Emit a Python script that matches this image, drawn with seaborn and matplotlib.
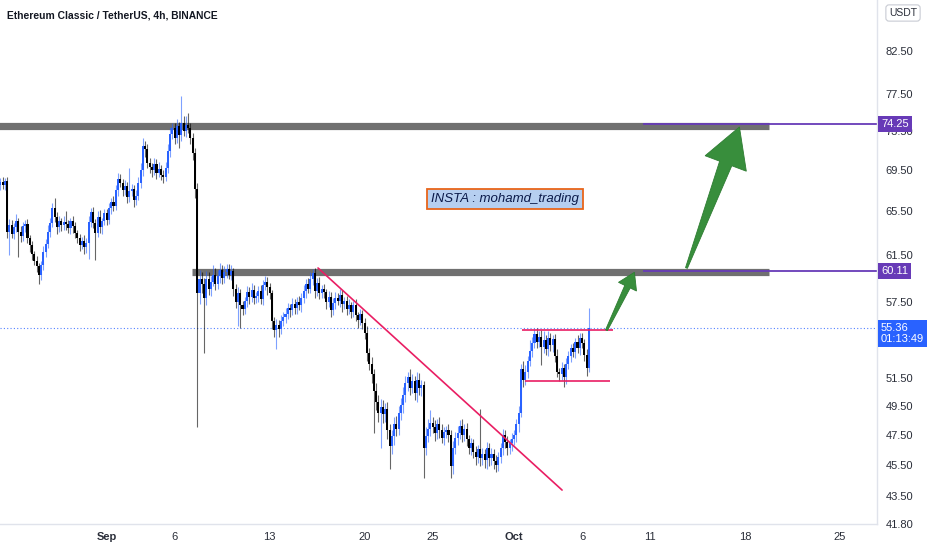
import numpy as np
import pandas as pd
import matplotlib
matplotlib.use("Agg")
import matplotlib.pyplot as plt
import seaborn as sns
from matplotlib.patches import Polygon
from matplotlib.transforms import IdentityTransform, blended_transform_factory
from matplotlib.ticker import FixedLocator, NullLocator, FormatStrFormatter

sns.set_theme(style="white")
plt.rcParams['font.family'] = ['Liberation Sans', 'DejaVu Sans']

# ETC/USDT 4h candles, Aug 24 04:00 -> Oct 6 12:00
first_open = 68.0
closes = [
    68.3, 68.0, 68.4, 63.6, 64.2,
    63.4, 64.0, 64.6, 63.6, 63.2, 64.1,
    64.3, 63.0, 62.4, 61.6, 61.0, 60.5,
    59.8, 60.6, 61.8, 62.5, 63.6, 64.4,
    65.8, 65.0, 64.0, 64.6, 64.2, 64.5,
    64.3, 63.9, 64.6, 64.1, 63.5, 63.0,
    62.4, 62.8, 62.2, 62.6, 64.5, 65.4,
    64.4, 63.5, 65.0, 64.0, 64.6, 65.3,
    64.7, 65.8, 66.4, 66.0, 67.5, 68.6,
    68.2, 67.5, 67.9, 66.9, 67.4, 67.6,
    66.6, 67.0, 68.2, 69.5, 72.0, 71.6,
    70.2, 69.8, 69.5, 70.1, 69.2, 69.6,
    69.0, 68.8, 69.7, 71.4, 73.2, 73.8,
    72.8, 74.0, 73.1, 74.4, 73.5, 74.2,
    73.8, 72.8, 71.2, 67.6, 58.2, 59.4,
    59.0, 57.8, 59.4, 58.6, 59.2, 59.8,
    59.0, 59.7, 60.2, 59.5, 60.0, 60.3,
    59.8, 60.1, 58.6, 57.5, 58.2, 57.2,
    56.9, 57.6, 58.3, 57.9, 58.5, 57.8,
    58.0, 58.4, 57.7, 58.9, 59.2, 58.7,
    58.2, 55.9, 55.2, 55.6, 55.3, 55.9,
    56.3, 56.5, 57.0, 56.8, 57.3, 57.0,
    57.5, 57.2, 57.8, 58.4, 59.0, 58.6,
    59.4, 59.9, 58.4, 59.1, 58.2, 58.6,
    58.3, 57.5, 57.9, 56.8, 57.4, 57.8,
    57.6, 58.1, 57.3, 57.6, 56.9, 57.2,
    56.7, 57.2, 56.4, 56.0, 56.5, 55.8,
    55.0, 53.4, 52.6, 51.8, 50.6, 49.8,
    49.0, 49.4, 48.9, 49.3, 47.8, 46.7,
    47.4, 48.2, 47.9, 49.0, 49.6, 50.3,
    51.2, 51.6, 50.8, 51.3, 50.4, 51.4,
    50.8, 51.0, 46.6, 47.4, 47.9, 48.3,
    48.0, 47.6, 48.2, 47.8, 47.3, 47.7,
    47.8, 47.5, 45.4, 46.6, 47.3, 47.6,
    48.1, 47.5, 47.9, 47.2, 46.6, 46.9,
    46.3, 46.0, 46.5, 45.9, 46.2, 45.8,
    46.6, 45.9, 46.2, 45.7, 45.5, 46.0,
    46.6, 47.5, 47.0, 46.6, 46.9, 47.2,
    47.5, 48.2, 49.0, 52.2, 51.4, 52.0,
    52.8, 53.6, 54.2, 54.9, 54.3, 54.7,
    53.9, 54.4, 53.7, 54.6, 54.0, 54.5,
    53.2, 52.0, 51.8, 52.3, 51.6, 52.6,
    53.2, 53.8, 53.5, 54.3, 53.8, 54.6,
    54.2, 53.3, 52.3, 55.36,
]
upper_wick = [
    0.4, 0.5, 0.3, 0.4, 0.6,
    0.5, 0.4, 0.6, 0.3, 0.5, 0.4,
    0.4, 0.5, 0.3, 0.4, 0.3, 0.4,
    0.3, 0.4, 0.5, 0.4, 0.6, 0.5,
    0.5, 1.0, 0.4, 0.5, 0.3, 0.6,
    1.0, 0.4, 0.3, 0.5, 0.4, 0.3,
    0.4, 0.3, 0.5, 0.4, 0.6, 0.4,
    0.5, 0.4, 0.5, 0.6, 0.3, 0.4,
    0.4, 0.5, 0.4, 0.6, 0.5, 0.6,
    0.5, 0.4, 0.6, 0.4, 2.3, 0.5,
    0.4, 0.5, 0.6, 0.7, 0.8, 0.5,
    0.6, 0.5, 0.4, 0.6, 0.5, 0.7,
    0.4, 0.5, 0.6, 0.8, 0.7, 0.6,
    0.6, 0.8, 0.5, 2.9, 0.7, 0.9,
    1.2, 0.6, 0.5, 0.5, 0.6, 0.8,
    0.6, 0.5, 0.7, 0.6, 0.5, 0.8,
    0.6, 0.5, 0.6, 0.4, 0.5, 0.4,
    0.4, 0.5, 0.3, 0.4, 0.5, 0.4,
    0.4, 0.3, 0.5, 0.4, 0.6, 0.4,
    0.3, 0.4, 0.5, 0.4, 0.5, 0.4,
    0.4, 0.3, 0.4, 0.5, 0.4, 0.5,
    0.4, 0.5, 0.4, 0.3, 0.5, 0.4,
    0.4, 0.5, 0.4, 0.5, 0.4, 0.5,
    0.6, 0.4, 0.5, 0.4, 0.5, 0.3,
    0.4, 0.3, 0.5, 0.4, 0.4, 0.5,
    0.4, 0.5, 0.4, 0.3, 0.4, 0.5,
    0.3, 0.4, 0.5, 0.3, 0.4, 0.3,
    0.4, 0.5, 0.4, 0.5, 0.4, 0.6,
    0.5, 0.6, 0.5, 0.4, 0.5, 0.4,
    0.4, 0.5, 0.6, 0.5, 0.5, 0.6,
    0.5, 0.4, 0.6, 0.5, 0.4, 0.6,
    0.5, 0.4, 0.3, 0.6, 0.7, 0.9,
    0.4, 0.5, 0.4, 0.5, 0.4, 0.3,
    0.3, 0.4, 0.3, 0.5, 0.4, 0.5,
    0.4, 0.5, 0.3, 0.4, 0.3, 0.4,
    0.3, 0.4, 0.3, 2.8, 0.4, 0.3,
    0.4, 0.3, 0.4, 0.3, 0.4, 0.3,
    0.3, 0.4, 0.3, 0.4, 0.3, 0.4,
    0.3, 0.4, 0.5, 0.4, 0.6, 0.5,
    0.4, 0.8, 0.5, 0.4, 0.5, 0.4,
    0.5, 0.7, 0.4, 0.5, 0.4, 0.3,
    0.4, 0.5, 0.3, 0.4, 0.3, 0.4,
    0.4, 0.3, 0.4, 0.3, 0.5, 0.4,
    0.4, 0.3, 0.4, 1.6,
]
lower_wick = [
    0.5, 0.4, 0.5, 0.6, 2.1,
    0.4, 0.5, 0.4, 2.3, 0.5, 0.4,
    0.5, 0.4, 0.6, 0.5, 0.4, 0.5,
    0.8, 0.5, 0.4, 0.5, 0.4, 0.5,
    0.4, 0.5, 0.6, 0.4, 0.5, 0.4,
    0.5, 0.4, 0.5, 0.6, 0.5, 0.4,
    0.5, 0.4, 0.6, 0.5, 1.4, 0.5,
    0.5, 2.4, 0.4, 0.5, 0.6, 0.4,
    0.5, 0.4, 0.6, 0.5, 0.4, 0.5,
    0.4, 0.5, 0.4, 0.6, 0.5, 0.4,
    0.7, 0.5, 0.4, 0.5, 0.6, 0.8,
    0.5, 0.6, 0.7, 0.5, 0.6, 0.4,
    0.5, 0.6, 0.4, 0.5, 0.6, 0.5,
    0.6, 0.5, 1.4, 0.6, 0.5, 0.6,
    0.5, 0.6, 0.7, 0.8, 10.2, 0.9,
    0.8, 4.4, 0.6, 0.5, 0.6, 0.4,
    0.5, 0.4, 0.6, 0.5, 0.4, 0.5,
    0.4, 0.5, 0.6, 0.5, 2.0, 1.8,
    0.5, 0.4, 0.5, 0.6, 0.4, 0.5,
    0.4, 0.5, 0.4, 0.5, 0.4, 0.6,
    0.5, 0.6, 0.5, 1.5, 0.6, 0.4,
    0.4, 0.5, 0.4, 0.5, 0.4, 0.5,
    0.5, 0.4, 0.5, 0.4, 0.6, 0.4,
    0.4, 0.5, 0.6, 0.4, 0.5, 0.4,
    0.5, 0.6, 0.4, 0.5, 0.4, 0.5,
    0.4, 0.5, 0.6, 0.4, 0.5, 0.4,
    0.5, 0.4, 0.5, 0.6, 0.4, 0.5,
    0.5, 0.6, 0.5, 0.6, 3.0, 0.6,
    0.6, 2.4, 0.6, 0.5, 0.6, 1.5,
    0.5, 0.6, 0.5, 0.4, 0.5, 0.6,
    0.5, 0.6, 0.5, 0.4, 0.5, 0.6,
    0.5, 0.6, 2.0, 0.5, 0.4, 0.5,
    0.4, 0.5, 0.4, 0.5, 0.4, 0.5,
    0.4, 0.5, 0.8, 0.5, 0.4, 0.5,
    0.4, 0.5, 0.4, 0.5, 0.4, 0.5,
    0.4, 0.5, 0.4, 0.5, 0.4, 0.5,
    0.6, 0.5, 0.4, 0.5, 0.5, 0.4,
    0.4, 0.5, 0.4, 0.5, 0.4, 0.5,
    0.4, 0.5, 0.5, 0.3, 0.5, 0.4,
    0.5, 0.4, 0.5, 0.4, 0.5, 0.4,
    1.4, 0.5, 0.4, 0.5, 0.4, 0.5,
    0.5, 0.4, 0.5, 0.4, 0.7, 0.5,
    0.4, 0.5, 0.4, 0.5, 0.4, 0.5,
    0.4, 0.5, 0.6, 0.3,
]

# drawing levels (prices)
resistance = [74.1, 60.0]
targets = [74.25, 60.11]
last_price = 55.36
countdown = "01:13:49"
range_top, range_bottom = 55.2, 51.3
y_ticks = [41.8, 43.5, 45.5, 47.5, 49.5, 51.5, 57.5, 61.5, 65.5, 69.5, 73.5, 77.5, 82.5, 87.5]
x_tick_dates = ["2021-09-01", "2021-09-06", "2021-09-13", "2021-09-20", "2021-09-25",
                "2021-10-01", "2021-10-06", "2021-10-11", "2021-10-18", "2021-10-25"]
x_tick_labels = ["Sep", "6", "13", "20", "25", "Oct", "6", "11", "18", "25"]

ref = pd.Timestamp("2021-09-01")


def day(ts):
    return (pd.Timestamp(ts) - ref) / pd.Timedelta(days=1)


times = pd.date_range("2021-08-24 04:00", periods=len(closes), freq="4h")
x = ((times - ref) / pd.Timedelta(days=1)).to_numpy()
c = np.array(closes)
o = np.concatenate([[first_open], c[:-1]])
hi = np.maximum(o, c) + np.array(upper_wick)
lo = np.minimum(o, c) - np.array(lower_wick)
up = c >= o

UP, DOWN = "#2962ff", "#000000"

fig = plt.figure(figsize=(9.32, 5.5), dpi=100)
ax = fig.add_axes([0, 26 / 550, 877 / 932, 524 / 550])
ax.set_yscale("log")
ax.set_xlim(-7.857, 56.72)
ax.set_ylim(41.77, 88.77)

# resistance zones + target lines
ax.hlines(resistance[0], -9, 48.77, color="#707070", lw=5.2, zorder=1)
ax.hlines(resistance[1], 6.28, 48.77, color="#707070", lw=5.2, zorder=1)
for t in targets:
    ax.hlines(t, 39.49, 57, color="#673ab7", lw=1.3, zorder=2)

# last price line
ax.axhline(last_price, color="#2962ff", lw=0.8, ls=(0, (1, 2)), alpha=0.8, zorder=1)

# candles
cols = np.where(up, UP, DOWN)
ax.vlines(x, lo, hi, colors=cols, lw=0.8, alpha=0.6, zorder=3)
ax.bar(x, c - o, bottom=o, width=0.15, color=cols, linewidth=0, zorder=4)

# trend line + range
sns.lineplot(x=[day("2021-09-16 13:27"), day("2021-10-04 12:43")], y=[60.37, 43.86],
             color="#e91e63", lw=1.2, ax=ax, zorder=5)
ax.hlines(range_top, day("2021-10-01 14:00"), day("2021-10-08 07:00"), color="#e91e63", lw=1.2, zorder=5)
ax.hlines(range_bottom, day("2021-10-01 19:00"), day("2021-10-08 01:30"), color="#e91e63", lw=1.2, zorder=5)

ax.text(day("2021-09-30 08:00"), 66.7, "INSTA : mohamd_trading", ha="center", va="center",
        style="italic", fontsize=9.5, color="#0b1a4a",
        zorder=6, bbox=dict(boxstyle="square,pad=0.3", fc="#b6cff0", ec="#e8651a", lw=1.3))

# axes styling
ax.yaxis.tick_right()
ax.yaxis.set_major_locator(FixedLocator(y_ticks))
ax.yaxis.set_minor_locator(NullLocator())
ax.yaxis.set_major_formatter(FormatStrFormatter("%.2f"))
ax.tick_params(axis="y", length=0, pad=6, labelsize=8, labelcolor="#2a2e39")
ax.set_xticks([day(d) for d in x_tick_dates])
ax.set_xticklabels(x_tick_labels)
ax.tick_params(axis="x", length=0, pad=6, labelsize=8, labelcolor="#2a2e39")
for lbl in ax.get_xticklabels():
    if lbl.get_text() in ("Sep", "Oct"):
        lbl.set_fontweight("bold")
for s in ("top", "left"):
    ax.spines[s].set_visible(False)
for s in ("bottom", "right"):
    ax.spines[s].set_color("#e0e3eb")
    ax.spines[s].set_linewidth(1)
ax.grid(False)


def arrow(p0, p1, shaft_w, head_w, head_len, color):
    a = ax.transData.transform(p0)
    b = ax.transData.transform(p1)
    u = (b - a) / np.hypot(*(b - a))
    n = np.array([-u[1], u[0]])
    base = b - u * head_len
    pts = [a + n * 1.0, base + n * shaft_w / 2, base + n * head_w / 2, b,
           base - n * head_w / 2, base - n * shaft_w / 2, a - n * 1.0]
    ax.add_patch(Polygon(pts, closed=True, transform=IdentityTransform(),
                         fc=color, ec="#2e7d32", lw=0.6, zorder=7))


arrow((day("2021-10-07 19:12"), 55.2), (day("2021-10-09 20:38"), 60.0), 6, 20, 16, "#388e3c")
arrow((day("2021-10-13 16:34"), 60.37), (day("2021-10-17 14:10"), 73.95), 13, 44, 39, "#388e3c")

# right axis price tags
tr = blended_transform_factory(ax.transAxes, ax.transData)
for t in targets:
    ax.text(1.0 + 4 / 877, t, f"{t:.2f}", transform=tr, ha="left", va="center", fontsize=8,
            color="white", zorder=10, clip_on=False,
            bbox=dict(boxstyle="square,pad=0.3", fc="#673ab7", ec="none"))
ax.text(1.0 + 4 / 877, last_price + 0.45, f"{last_price:.2f}\n{countdown}", transform=tr, ha="left",
        va="top", fontsize=8, color="white", zorder=10, clip_on=False, linespacing=1.2,
        bbox=dict(boxstyle="square,pad=0.25", fc="#2962ff", ec="none"))

fig.text(889 / 932, 1 - 13 / 550, "USDT", fontsize=7.5, color="#2a2e39", va="center", ha="left",
         bbox=dict(boxstyle="round,pad=0.3,rounding_size=0.3", fc="white", ec="#c8cbd3", lw=0.8))
fig.text(7 / 932, 1 - 15 / 550, "Ethereum Classic / TetherUS, 4h, BINANCE", fontsize=7.4,
         fontweight="bold", color="#131722", va="center")

fig.savefig("out.png", dpi=100)
